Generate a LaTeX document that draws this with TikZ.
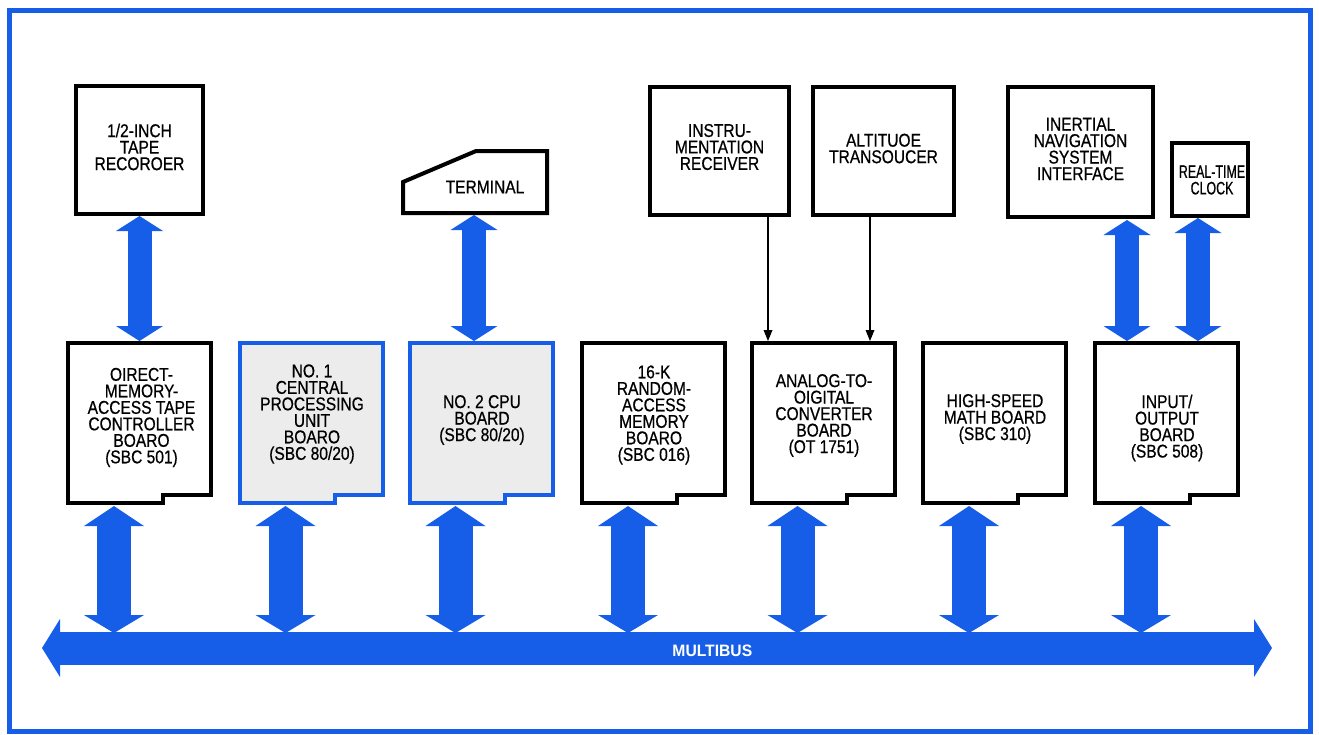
\documentclass[tikz,border=0pt]{standalone}
\usepackage{fontspec}
\setmainfont{Liberation Sans}
\newfontfamily\lblfont[FakeStretch=0.84,FakeBold=0.6]{Liberation Sans}
\newfontfamily\clkfont[FakeStretch=0.69,FakeBold=0.6]{Liberation Sans}
\newfontfamily\busfont[FakeStretch=0.95]{Liberation Sans}
\usetikzlibrary{arrows.meta}
\definecolor{dblue}{RGB}{22,94,232}
\definecolor{bgray}{RGB}{236,236,236}
\tikzset{
  boxline/.style={draw=black, line width=4pt, fill=white, line join=miter},
  blueline/.style={draw=dblue, line width=4pt, fill=bgray, line join=miter},
  area/.style={draw=none, inner sep=0pt, outer sep=0pt},
  txt/.style={font=\lblfont\fontsize{18.5}{16.5}\selectfont, align=center, inner sep=0pt, text=black},
  fatv/.style={draw=dblue, line width=24pt,
    {Triangle[width=47pt,length=15pt,line width=0pt]}-{Triangle[width=47pt,length=15pt,line width=0pt]}},
  busv/.style={draw=dblue, line width=34pt,
    {Triangle[width=60pt,length=20pt,line width=0pt]}-{Triangle[width=60pt,length=18pt,line width=0pt]}},
  busbar/.style={draw=dblue, line width=33pt,
    {Triangle[width=58pt,length=18pt,line width=0pt]}-{Triangle[width=58pt,length=18pt,line width=0pt]}},
  thinarrow/.style={draw=black, line width=1.3pt, -{Triangle[width=9pt,length=11pt,line width=0pt]}}
}
\newcommand\boardpath[2]{%
  \draw[#2] (#1.north west) -- (#1.north east) -- ([yshift=8pt]#1.south east)
    -- ([xshift=-48pt,yshift=8pt]#1.south east) -- ([xshift=-48pt]#1.south east)
    -- (#1.south west) -- cycle;}
\begin{document}
\begin{tikzpicture}[x=1pt,y=-1pt]
\useasboundingbox (0,0) rectangle (1319,734);
\draw[dblue, line width=5pt] (9.5,10.5) rectangle (1310,731);

% ---- top boxes ----
\node[area, minimum width=127pt, minimum height=128pt] (tape) at (139.5,150) {};
\draw[boxline] (tape.north west) rectangle (tape.south east);
\node[txt] (tapeT) at (139.5,147) {1/2-INCH\\TAPE\\RECOROER};

\node[area, minimum width=144pt, minimum height=62pt] (term) at (475,182) {};
\draw[boxline] (term.south west) -- ([yshift=-31pt]term.north west) -- ([xshift=73pt]term.north west)
  -- (term.north east) -- (term.south east) -- cycle;
\node[txt] (termT) at (485,187) {TERMINAL};

\node[area, minimum width=139pt, minimum height=128pt] (instr) at (719.5,151) {};
\draw[boxline] (instr.north west) rectangle (instr.south east);
\node[txt] (instrT) at (719.5,147) {INSTRU-\\MENTATION\\RECEIVER};

\node[area, minimum width=141pt, minimum height=128pt] (alt) at (883.5,151) {};
\draw[boxline] (alt.north west) rectangle (alt.south east);
\node[txt] (altT) at (883.5,148.5) {ALTITUOE\\TRANSOUCER};

\node[area, minimum width=145pt, minimum height=130pt] (inert) at (1080.5,152) {};
\draw[boxline] (inert.north west) rectangle (inert.south east);
\node[txt] (inertT) at (1080.5,149) {INERTIAL\\NAVIGATION\\SYSTEM\\INTERFACE};

\node[area, minimum width=76pt, minimum height=73pt] (clock) at (1210,179.5) {};
\draw[boxline] (clock.north west) rectangle (clock.south east);
\node[txt, font=\clkfont\fontsize{18}{16.5}\selectfont] (clockT) at (1212,180) {REAL-TIME\\CLOCK};

% ---- boards ----
\tikzset{board/.style={area, minimum width=143pt, minimum height=160pt}}
\node[board] (dma)  at (139.5,423) {};
\node[board] (cpu1) at (311,423) {};
\node[board] (cpu2) at (481,423) {};
\node[board] (ram)  at (653.5,423) {};
\node[board] (adc)  at (823,423) {};
\node[board] (math) at (994.5,423) {};
\node[board] (io)   at (1166.5,423) {};
\boardpath{dma}{boxline}
\boardpath{cpu1}{blueline}
\boardpath{cpu2}{blueline}
\boardpath{ram}{boxline}
\boardpath{adc}{boxline}
\boardpath{math}{boxline}
\boardpath{io}{boxline}

\node[txt] (dmaT)  at (141.5,417.5) {OIRECT-\\MEMORY-\\ACCESS TAPE\\CONTROLLER\\BOARO\\(SBC 501)};
\node[txt] (cpu1T) at (312,414) {NO. 1\\CENTRAL\\PROCESSING\\UNIT\\BOARO\\(SBC 80/20)};
\node[txt] (cpu2T) at (482,420) {NO. 2 CPU\\BOARD\\(SBC 80/20)};
\node[txt] (ramT)  at (654,415) {16-K\\RANDOM-\\ACCESS\\MEMORY\\BOARO\\(SBC 016)};
\node[txt] (adcT)  at (824,415.5) {ANALOG-TO-\\OIGITAL\\CONVERTER\\BOARD\\(OT 1751)};
\node[txt] (mathT) at (995,419) {HIGH-SPEED\\MATH BOARD\\(SBC 310)};
\node[txt] (ioT)   at (1167,428) {INPUT/\\OUTPUT\\BOARD\\(SBC 508)};

% ---- top connectors ----
\path ([yshift=-2pt]tape.south) coordinate (t1);
\path (t1 |- dma.north) ++(0,-2) coordinate (t2);
\draw[fatv] (t1) -- (t2);

\path ([xshift=-1pt,yshift=-2pt]term.south) coordinate (m1);
\path (m1 |- cpu2.north) ++(0,-2) coordinate (m2);
\draw[fatv] (m1) -- (m2);

\path ([xshift=46.5pt,yshift=-3pt]inert.south) coordinate (n1);
\path (n1 |- io.north) ++(0,-2) coordinate (n2);
\draw[fatv] (n1) -- (n2);

\path ([xshift=-12pt,yshift=-2pt]clock.south) coordinate (k1);
\path (k1 |- io.north) ++(0,-2) coordinate (k2);
\draw[fatv] (k1) -- (k2);

\path ([xshift=48.5pt,yshift=-2pt]instr.south) coordinate (r1);
\path (r1 |- adc.north) ++(0,-2) coordinate (r2);
\draw[thinarrow] (r1) -- (r2);

\path ([xshift=-13.5pt,yshift=-2pt]alt.south) coordinate (a1);
\path (a1 |- adc.north) ++(0,-2) coordinate (a2);
\draw[thinarrow] (a1) -- (a2);

% ---- multibus ----
\coordinate (busL) at (42,648);
\coordinate (busR) at (1272,648);
\coordinate (busTop) at (0,633);
\draw[busbar] (busL) -- node[pos=0.545, font=\busfont\bfseries\fontsize{16.5}{18}\selectfont, text=white, inner sep=0pt, yshift=-3pt] (busT) {MULTIBUS} (busR);

\foreach \b in {dma,cpu1,cpu2,ram,adc,math,io}{
  \path ([xshift=46pt,yshift=-3pt]\b.south west) coordinate (\b-d);
  \draw[busv] (\b-d) -- (\b-d |- busTop);
}
\end{tikzpicture}
\end{document}
